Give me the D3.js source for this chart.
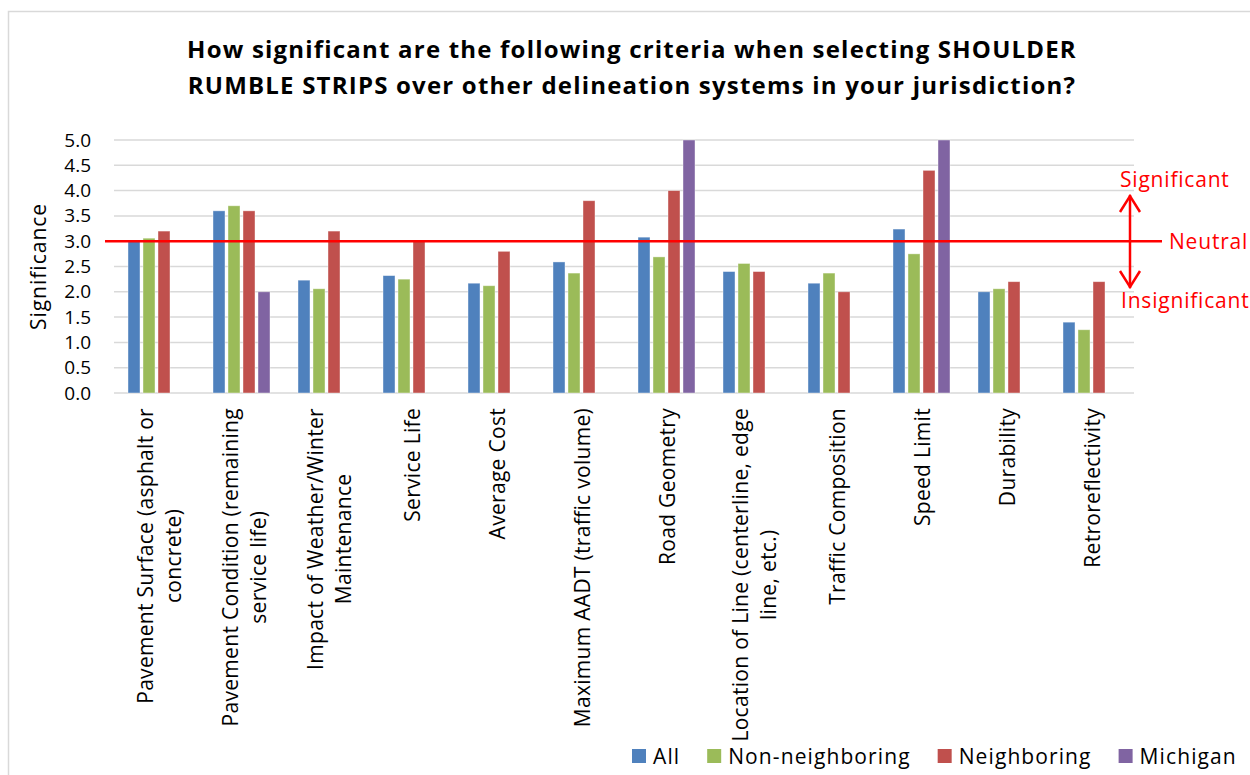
<!DOCTYPE html>
<html>
<head>
<meta charset="utf-8">
<script src="https://cdn.jsdelivr.net/npm/d3@7/dist/d3.min.js"></script>
<style>
  html, body { margin: 0; padding: 0; background: #fff; }
  svg { display: block; font-family: "Open Sans", sans-serif; }
</style>
</head>
<body>
<svg id="chart" width="1250" height="775"></svg>
<script>
// Survey criteria (wrapped lines separated by "\n")
const categories = [
  "Pavement Surface (asphalt or\nconcrete)",
  "Pavement Condition (remaining\nservice life)",
  "Impact of Weather/Winter\nMaintenance",
  "Service Life",
  "Average Cost",
  "Maximum AADT (traffic volume)",
  "Road Geometry",
  "Location of Line (centerline, edge\nline, etc.)",
  "Traffic Composition",
  "Speed Limit",
  "Durability",
  "Retroreflectivity"
];

const seriesNames = ["All", "Non-neighboring", "Neighboring", "Michigan"];
const seriesColors = ["#4f81bd", "#9bbb59", "#c0504d", "#8064a2"];

// Mean significance rating per respondent group (null = no response)
const allValues        = [3.0, 3.6, 2.23, 2.32, 2.17, 2.59, 3.08, 2.4, 2.17, 3.24, 2.0, 1.4];
const nonNeighboring   = [3.06, 3.7, 2.06, 2.25, 2.12, 2.37, 2.69, 2.56, 2.37, 2.75, 2.06, 1.25];
const neighboring      = [3.2, 3.6, 3.2, 3.0, 2.8, 3.8, 4.0, 2.4, 2.0, 4.4, 2.2, 2.2];
const michigan         = [null, 2.0, null, null, null, null, 5.0, null, null, 5.0, null, null];

const yTicks = [0, 0.5, 1, 1.5, 2, 2.5, 3, 3.5, 4, 4.5, 5];
const neutralValue = 3.0;

const titleLines = [
  "How significant are the following criteria when selecting SHOULDER",
  "RUMBLE STRIPS over other delineation systems in your jurisdiction?"
];

const seriesValues = [allValues, nonNeighboring, neighboring, michigan];

const svg = d3.select("#chart");

// Chart frame
svg.append("rect")
  .attr("x", 8.5).attr("y", 11.5)
  .attr("width", 1260).attr("height", 800)
  .attr("fill", "#fff").attr("stroke", "#d9d9d9").attr("stroke-width", 1.5);

const plot = { left: 114, right: 1134, top: 140, bottom: 393 };

const x0 = d3.scaleBand().domain(categories).range([plot.left, plot.right]).padding(0);
const x1 = d3.scaleBand().domain(seriesNames)
  .range([x0.bandwidth() * 0.1647, x0.bandwidth() * (1 - 0.1647)])
  .paddingInner(0.2).paddingOuter(0);
const y = d3.scaleLinear().domain([0, 5]).range([plot.bottom, plot.top]);

// Title
svg.append("text")
  .attr("x", 632).attr("y", 58)
  .attr("text-anchor", "middle")
  .attr("font-weight", "bold")
  .attr("font-size", 24)
  .attr("letter-spacing", 1.2)
  .attr("fill", "#000")
  .selectAll("tspan").data(titleLines).join("tspan")
  .attr("x", 632).attr("dy", (d, i) => i === 0 ? 0 : 36)
  .text(d => d);

// Gridlines
svg.append("g")
  .selectAll("line").data(yTicks).join("line")
  .attr("x1", plot.left).attr("x2", plot.right)
  .attr("y1", d => y(d)).attr("y2", d => y(d))
  .attr("stroke", "#d9d9d9").attr("stroke-width", 1.5);

// Y axis labels
const yAxis = d3.axisLeft(y).tickValues(yTicks).tickFormat(d3.format(".1f")).tickSize(0).tickPadding(0);
const yAxisG = svg.append("g").attr("transform", `translate(91,0)`).call(yAxis);
yAxisG.select(".domain").remove();
yAxisG.selectAll("text")
  .attr("font-family", "'Open Sans', sans-serif")
  .attr("font-size", 19).attr("fill", "#000");

// Y axis title
svg.append("text")
  .attr("transform", `translate(46,${(plot.top + plot.bottom) / 2}) rotate(-90)`)
  .attr("text-anchor", "middle")
  .attr("font-size", 21).attr("letter-spacing", 1)
  .attr("fill", "#000")
  .text("Significance");

// Bars
const barData = [];
categories.forEach((c, ci) => {
  seriesNames.forEach((s, si) => {
    const v = seriesValues[si][ci];
    if (v !== null) barData.push({ c, s, v, color: seriesColors[si] });
  });
});
svg.append("g")
  .selectAll("rect").data(barData).join("rect")
  .attr("x", d => x0(d.c) + x1(d.s))
  .attr("y", d => y(d.v))
  .attr("width", x1.bandwidth())
  .attr("height", d => y(0) - y(d.v))
  .attr("fill", d => d.color)
  .attr("stroke", "#ffffff").attr("stroke-opacity", 0.5).attr("stroke-width", 0.8);

// Category labels, rotated, wrapped lines centred on each other
const labelTop = 408;
const lineGap = 28;
const labelG = svg.append("g")
  .attr("font-size", 21).attr("letter-spacing", 0.3).attr("fill", "#000");
categories.forEach(c => {
  const lines = c.split("\n");
  const cx = x0(c) + x0.bandwidth() / 2;
  const t = labelG.append("text").attr("text-anchor", "middle");
  const spans = t.selectAll("tspan").data(lines).join("tspan").text(d => d);
  let maxW = 0;
  spans.each(function () { maxW = Math.max(maxW, this.getComputedTextLength()); });
  const n = lines.length;
  const shift = n > 1 ? 3 : 1;
  spans
    .attr("x", 0)
    .attr("y", (d, i) => 7.5 + shift + (i - (n - 1) / 2) * lineGap);
  t.attr("transform", `translate(${cx},${labelTop + maxW / 2}) rotate(-90)`);
});

// Neutral reference line
const red = "#ff0000";
svg.append("line")
  .attr("x1", 105).attr("x2", 1162)
  .attr("y1", y(neutralValue)).attr("y2", y(neutralValue))
  .attr("stroke", red).attr("stroke-width", 2.5);

// Double-headed arrow between Significant and Insignificant
const ax = 1130, aTop = 195, aBot = 288;
svg.append("line")
  .attr("x1", ax).attr("x2", ax).attr("y1", aTop).attr("y2", aBot)
  .attr("stroke", red).attr("stroke-width", 2.5);
svg.append("path")
  .attr("d", `M${ax - 10},${aTop + 17} L${ax},${aTop + 1} L${ax + 10},${aTop + 17}
              M${ax - 10},${aBot - 17} L${ax},${aBot - 1} L${ax + 10},${aBot - 17}`)
  .attr("fill", "none").attr("stroke", red).attr("stroke-width", 2.5)
  .attr("stroke-linejoin", "miter");

const annot = svg.append("g").attr("fill", red)
  .attr("font-size", 21).attr("letter-spacing", 0.8);
annot.append("text").attr("x", 1120).attr("y", 187).text("Significant");
annot.append("text").attr("x", 1169).attr("y", 249).text("Neutral");
annot.append("text").attr("x", 1121).attr("y", 308).text("Insignificant");

// Legend
const legend = svg.append("g")
  .attr("font-size", 21).attr("letter-spacing", 1.1).attr("fill", "#000");
let lx = 632;
seriesNames.forEach((s, i) => {
  legend.append("rect")
    .attr("x", lx).attr("y", 749).attr("width", 14).attr("height", 14)
    .attr("fill", seriesColors[i]);
  const t = legend.append("text").attr("x", lx + 21).attr("y", 764).text(s);
  lx += 21 + t.node().getComputedTextLength() + 27;
});
</script>
</body>
</html>
